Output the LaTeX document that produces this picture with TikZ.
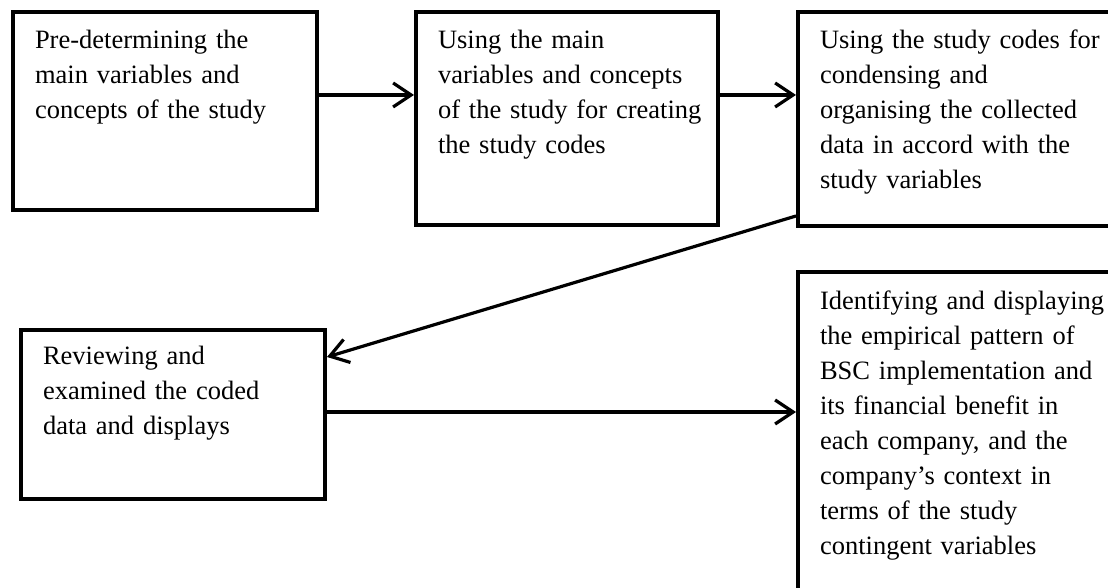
\documentclass[tikz,border=0pt]{standalone}
\usepackage{fontspec}
\setmainfont{Liberation Serif}
\usetikzlibrary{positioning, calc, arrows.meta}

\begin{document}
\begin{tikzpicture}[
  font=\fontsize{13.25}{17.5}\selectfont,
  stage/.style={
    rectangle,
    draw,
    line width=2pt,
    inner xsep=11pt,
    inner ysep=0pt,
    text width=130pt,
    text height=18.5pt,
    align=left,
  },
  flow/.style={line width=1.6pt, -{Straight Barb[length=9pt,width=12pt]}},
]
\useasboundingbox (0,0) rectangle (554pt,294pt);

% --- Pre-determining ---
\node[stage, anchor=north west, text depth=80.5pt] (Predetermine) at (5.5pt,289pt) {
  \begin{tabular}[t]{@{}l@{}}
  Pre-determining the\\
  main variables and\\
  concepts of the study
  \end{tabular}
};

% --- Creating codes ---
\node[stage, right=47.5pt of Predetermine.north east, anchor=north west,
  text width=129pt, text depth=88pt] (CreateCodes) {
  \begin{tabular}[t]{@{}l@{}}
  Using the main\\
  variables and concepts\\
  of the study for creating\\
  the study codes
  \end{tabular}
};

% --- Condensing ---
\node[stage, right=38pt of CreateCodes.north east, anchor=north west,
  text width=137pt, text depth=88.5pt] (Condense) {
  \begin{tabular}[t]{@{}l@{}}
  Using the study codes for\\
  condensing and\\
  organising the collected\\
  data in accord with the\\
  study variables
  \end{tabular}
};

% --- Reviewing ---
\node[stage, anchor=north west, text height=17.5pt, text depth=67pt] (Review) at (9.5pt,130pt) {
  \begin{tabular}[t]{@{}l@{}}
  Reviewing and\\
  examined the coded\\
  data and displays
  \end{tabular}
};

% --- Identifying (runs past the bottom edge) ---
\node[stage, below=21pt of Condense.south west, anchor=north west,
  text width=137pt, text height=19pt, text depth=158pt] (Identify) {
  \begin{tabular}[t]{@{}l@{}}
  Identifying and displaying\\
  the empirical pattern of\\
  BSC implementation and\\
  its financial benefit in\\
  each company, and the\\
  company’s context in\\
  terms of the study\\
  contingent variables
  \end{tabular}
};

% top row, left to right
\draw[flow] ($(Predetermine.north east)+(0,-42.5pt)$) -- ($(CreateCodes.north west)+(0,-42.5pt)$);
\draw[flow] ($(CreateCodes.north east)+(0,-42.5pt)$) -- ($(Condense.north west)+(0,-42.5pt)$);
% back down to the review box
\draw[flow] ($(Condense.south west)+(0,6pt)$) -- ($(Review.north east)+(0,-14.5pt)$);
% review feeds the last box
\coordinate (ReviewOut) at ($(Review.north east)+(0,-42pt)$);
\draw[flow] (ReviewOut) -- (ReviewOut -| Identify.west);
\end{tikzpicture}
\end{document}
